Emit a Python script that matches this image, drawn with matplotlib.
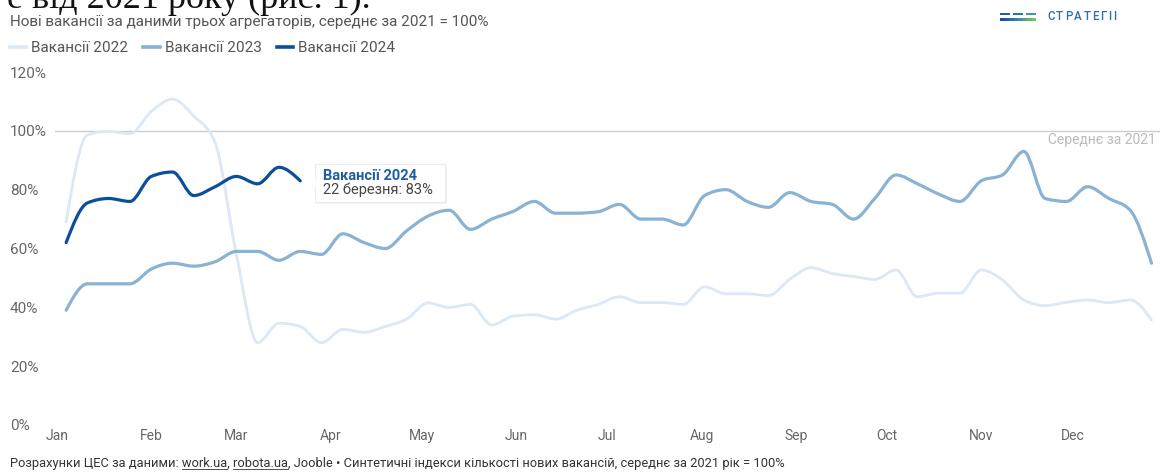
import numpy as np
import pandas as pd
import matplotlib
matplotlib.use("Agg")
import matplotlib.pyplot as plt
import matplotlib.dates as mdates
import matplotlib.transforms as mtransforms
from matplotlib.patches import Rectangle, Polygon, PathPatch
from matplotlib.lines import Line2D
from matplotlib.path import Path
from matplotlib.font_manager import FontProperties

plt.rcParams["font.family"] = ["Roboto", "DejaVu Sans"]

# weekly points, all years put on one common calendar year
weeks = pd.date_range("2023-01-04", periods=52, freq="7D")

vac_2022 = [69, 98.6, 99.8, 99, 106.6, 110.8, 105, 96, 58, 28, 34.6, 33.5, 28,
            32.5, 31.5, 33.5, 36, 41.5, 40, 41, 34, 37, 37.5, 36, 39, 41, 43.6,
            41.6, 41.6, 41, 47, 44.6, 44.6, 44, 49.5, 53.5, 51.5, 50.5, 49.5,
            52.7, 43.6, 44.8, 44.8, 52.7, 49.3, 42.5, 40.6, 41.7, 42.5, 41.6,
            42.5, 35.7]
vac_2023 = [39, 48, 48, 48, 53, 55, 54, 55.5, 59, 59, 56, 59, 58, 65, 62, 60,
            66, 71, 73, 66.5, 70, 72.6, 76, 72, 72, 72.5, 75, 70, 70, 68, 78, 80,
            76, 74, 79, 76, 75, 70, 77, 85, 82, 78.5, 76, 83, 85, 93, 77, 76, 81,
            77, 73, 55]
vac_2024 = [62, 75.5, 77, 76, 84.5, 86, 78, 81, 84.5, 82, 87.6, 83]

series_names = ["Вакансії 2022", "Вакансії 2023", "Вакансії 2024"]
y_ticks = [0, 20, 40, 60, 80, 100, 120]
tooltip_date = "22 березня"

colors = ["#dce8f4", "#8ab3d3", "#0b4f9c"]
W, H = 1160, 472


def monotone_path(x, y):
    # smooth curve through the points, like d3 curveMonotoneX
    x = np.asarray(x, float)
    y = np.asarray(y, float)
    n = len(x)
    h = np.diff(x)
    s = np.diff(y) / h
    t = np.zeros(n)
    for i in range(1, n - 1):
        p = (s[i - 1] * h[i] + s[i] * h[i - 1]) / (h[i - 1] + h[i])
        t[i] = (np.sign(s[i - 1]) + np.sign(s[i])) * min(abs(s[i - 1]), abs(s[i]), 0.5 * abs(p))
    t[0] = (3 * s[0] - t[1]) / 2
    t[-1] = (3 * s[-1] - t[-2]) / 2
    verts = [(x[0], y[0])]
    codes = [Path.MOVETO]
    for i in range(n - 1):
        dx = h[i] / 3
        verts += [(x[i] + dx, y[i] + dx * t[i]),
                  (x[i + 1] - dx, y[i + 1] - dx * t[i + 1]),
                  (x[i + 1], y[i + 1])]
        codes += [Path.CURVE4] * 3
    return Path(verts, codes)


fig = plt.figure(figsize=(W / 100, H / 100), dpi=100)
ax = fig.add_axes([55 / W, 47 / H, 1 - 55 / W, 353 / H])

xnum = mdates.date2num(weeks)
all_series = [vac_2022, vac_2023, vac_2024]
widths = [2.0, 2.3, 2.3]
handles = []
for k, vals in enumerate(all_series):
    path = monotone_path(xnum[:len(vals)], vals)
    ax.add_patch(PathPatch(path, facecolor="none", edgecolor=colors[k],
                           lw=widths[k], capstyle="round", joinstyle="round",
                           zorder=2 + k))
    handles.append(Line2D([], [], color=colors[k], lw=2.6,
                          label=series_names[k]))

x0 = mdates.date2num(pd.Timestamp("2023-01-01"))
ax.set_xlim(x0 - 0.66, x0 + 362.8)
ax.set_ylim(0, 120)
ax.xaxis.set_major_locator(mdates.MonthLocator())
ax.xaxis.set_major_formatter(mdates.DateFormatter("%b"))
ax.set_yticks(y_ticks)
ax.set_yticklabels([f"{v}%" for v in y_ticks])
ax.tick_params(axis="x", length=0, pad=3, labelsize=10, labelcolor="#666666")
ax.tick_params(axis="y", length=0, pad=32.4, labelsize=11, labelcolor="#666666")
for lbl in ax.get_yticklabels():
    lbl.set_horizontalalignment("left")
for s in ax.spines.values():
    s.set_visible(False)

# 2021 average reference line
ax.axhline(100, color="#cccccc", lw=1, zorder=1)
ax.annotate("Середнє за 2021", xy=(1, 100), xycoords=("axes fraction", "data"),
            xytext=(-4 * 0.72, -9 * 0.72), textcoords="offset points",
            ha="right", va="center", fontsize=10, color="#bbbbbb")

# legend row
ax.legend(handles=handles, loc="center left",
          bbox_to_anchor=(10 / W, 1 - 48 / H),
          bbox_transform=fig.transFigure, ncol=3, frameon=False, borderpad=0,
          borderaxespad=0, handlelength=1.05, handletextpad=0.33,
          columnspacing=1.0, fontsize=11, labelcolor="#555555")

# title
fig.text(10 / W, 1 - 22 / H,
         "Нові вакансії за даними трьох агрегаторів, середнє за 2021 = 100%",
         fontsize=11, color="#555555", va="center")

# clipped line of the surrounding article text
fig.text(7 / W, 1 - 8 / H, "е від 2021 року (рис. 1).",
         family=["Liberation Serif", "DejaVu Serif"], fontsize=26,
         va="baseline", color="#111111")

# logo
for i, c in enumerate(["#1d5ea6", "#2b79a6", "#3f97a0"]):
    fig.add_artist(Rectangle(((1000 + 13 * i) / W, 1 - 15 / H), 10 / W, 2 / H,
                             transform=fig.transFigure, color=c, lw=0))
bar_cols = ["#1b4f9c", "#1f5ea2", "#2a70a4", "#3583a0", "#449496", "#57a585",
            "#6bb46f", "#7ec15a"]
for i, c in enumerate(bar_cols):
    fig.add_artist(Rectangle(((1000 + 4.5 * i) / W, 1 - 20.5 / H), 4.6 / W,
                             3 / H, transform=fig.transFigure, color=c, lw=0))

# tooltip at the last 2024 point
last_x = xnum[len(vac_2024) - 1]
last_y = vac_2024[-1]
trans = fig.dpi_scale_trans + mtransforms.ScaledTranslation(last_x, last_y,
                                                            ax.transData)
ax.add_patch(Rectangle((0.165, -0.235), 1.30, 0.38, transform=trans,
                       facecolor="black", alpha=0.05, lw=0, zorder=5,
                       clip_on=False))
ax.add_patch(Rectangle((0.15, -0.21), 1.30, 0.38, transform=trans,
                       facecolor="white", edgecolor="#ececec", lw=0.8,
                       zorder=6, clip_on=False))
ax.add_patch(Polygon([(0.155, 0.04), (0.095, -0.02), (0.155, -0.08)],
                     closed=True, transform=trans, facecolor="white",
                     edgecolor="none", zorder=7, clip_on=False))
ax.annotate(series_names[2], xy=(last_x, last_y),
            xytext=(23 * 0.72, 5 * 0.72), textcoords="offset points",
            ha="left", va="center", fontsize=10.5, fontweight="bold",
            color="#1f5ca6", zorder=8, annotation_clip=False)
ax.annotate(f"{tooltip_date}: {last_y:.0f}%", xy=(last_x, last_y),
            xytext=(23 * 0.72, -9 * 0.72), textcoords="offset points",
            ha="left", va="center", fontsize=10.5, color="#444444", zorder=8,
            annotation_clip=False)

# footer with underlined links
prefix = "Розрахунки ЦЕС за даними: "
links = ["work.ua", "robota.ua"]
footer = (prefix + links[0] + ", " + links[1] + ", Jooble • Синтетичні індекси "
          "кількості нових вакансій, середнє за 2021 рік = 100%")
foot_x, foot_y = 10, 464
foot = fig.text(foot_x / W, 1 - foot_y / H, footer, fontsize=9.3,
                color="#333333", va="center", ha="left")

fig.canvas.draw()
renderer = fig.canvas.get_renderer()
prop = foot.get_fontproperties()
fb = foot.get_window_extent(renderer)


def text_w(s, fp):
    return renderer.get_text_width_height_descent(s, fp, ismath=False)[0]


for word in links:
    upto = footer[:footer.index(word) + len(word)]
    x_end = fb.x0 + text_w(upto, prop)
    x_start = x_end - text_w(word, prop)
    yy = fb.y0 + 1.5
    fig.add_artist(Line2D([x_start, x_end], [yy, yy],
                          transform=mtransforms.IdentityTransform(),
                          color="#333333", lw=0.6))

# logo word with letter tracking
logo_fp = FontProperties(family=["Roboto", "DejaVu Sans"], size=8.3,
                         weight="medium")
lx = 1047
for ch in "СТРАТЕГІІ":
    fig.text(lx / W, 1 - 17 / H, ch, fontproperties=logo_fp,
             color="#2e6cb4", va="center", ha="left")
    lx += text_w(ch, logo_fp) + 1.7

fig.savefig("out.png", dpi=100)
